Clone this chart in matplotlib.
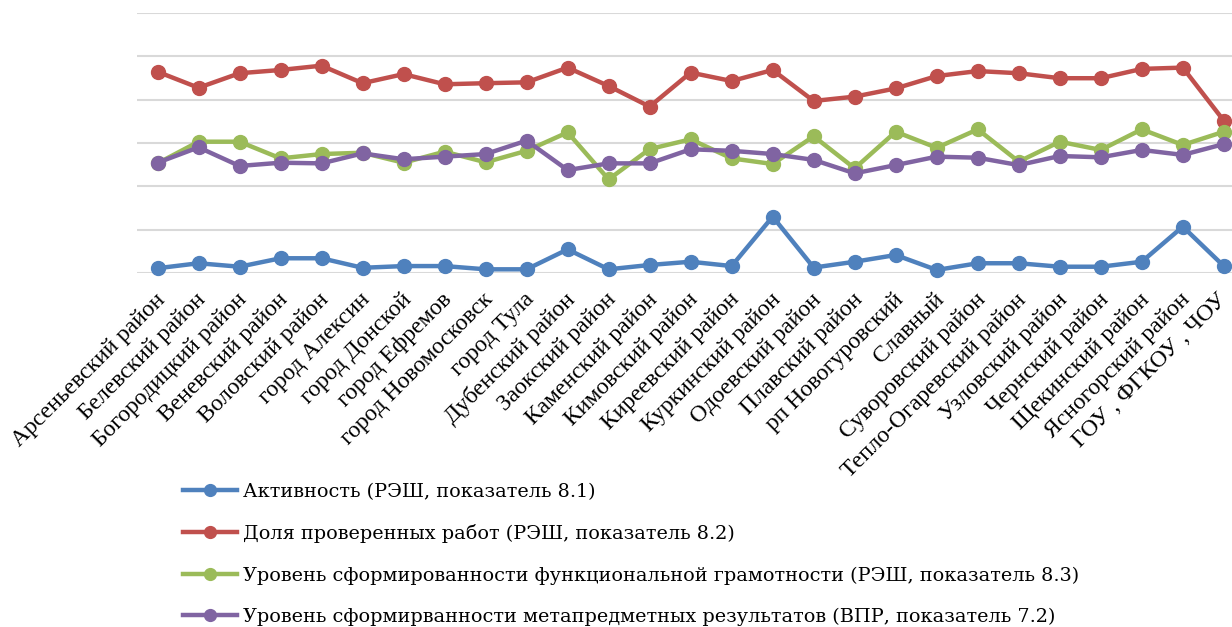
import matplotlib.pyplot as plt
from matplotlib.transforms import ScaledTranslation

# Районы (ось X)
raiony = ['Арсеньевский район', 'Белевский район', 'Богородицкий район', 'Веневский район',
          'Воловский район', 'город Алексин', 'город Донской', 'город Ефремов',
          'город Новомосковск', 'город Тула', 'Дубенский район', 'Заокский район',
          'Каменский район', 'Кимовский район', 'Киреевский район', 'Куркинский район',
          'Одоевский район', 'Плавский район', 'рп Новогуровский', 'Славный',
          'Суворовский район', 'Тепло-Огаревский район', 'Узловский район', 'Чернский район',
          'Щекинский район', 'Ясногорский район', 'ГОУ , ФГКОУ , ЧОУ']

# Значения серий (оценены по картинке)
aktivnost = [2.2, 4.5, 2.9, 6.8, 6.8, 2.4, 3.2, 3.2, 1.7, 1.7, 10.9, 1.7, 3.7, 5.2,
             3.2, 26.0, 2.5, 5.2, 8.3, 1.4, 4.5, 4.5, 2.9, 2.9, 5.2, 21.4, 3.2]
dolya = [92.9, 85.5, 92.2, 93.7, 95.7, 87.6, 91.8, 87.1, 87.6, 88.0, 94.8, 86.3, 76.8, 92.5,
         88.6, 93.7, 79.4, 81.4, 85.2, 90.9, 93.2, 92.2, 89.9, 89.9, 94.2, 94.8, 70.3]
funk_gram = [50.6, 60.6, 60.6, 52.9, 54.9, 55.5, 50.9, 56.0, 51.1, 56.4, 64.9, 43.2, 57.2, 61.7,
             52.9, 50.3, 63.1, 48.3, 65.2, 57.8, 66.3, 51.4, 60.6, 56.8, 66.3, 59.1, 65.2]
metapred = [50.9, 58.0, 49.4, 50.9, 50.6, 55.2, 52.5, 53.7, 54.9, 61.1, 47.5, 50.6, 50.6, 57.1,
            56.4, 54.9, 52.2, 46.0, 49.8, 53.7, 53.2, 49.8, 54.0, 53.4, 56.8, 54.5, 59.5]

nombres = ['Активность (РЭШ, показатель 8.1)',
           'Доля проверенных работ (РЭШ, показатель 8.2)',
           'Уровень сформированности функциональной грамотности (РЭШ, показатель 8.3)',
           'Уровень сформирванности метапредметных результатов (ВПР, показатель 7.2)']
colores = ['#4F81BD', '#C0504D', '#9BBB59', '#8064A2']

fig = plt.figure(figsize=(12.32, 6.27), dpi=100)
ax = fig.add_axes([137 / 1232, 1 - 273 / 627, 1 - 137 / 1232, (273 - 13) / 627])

x = list(range(len(raiony)))
lineas = []
for serie, nombre, color in zip([aktivnost, dolya, funk_gram, metapred], nombres, colores):
    l, = ax.plot(x, serie, color=color, linewidth=3.2, marker='o', markersize=10,
                 label=nombre, clip_on=False)
    lineas.append(l)

ax.set_ylim(0, 120)
ax.set_yticks(range(0, 121, 20))
ax.set_xlim(-0.5, 26.2)
ax.grid(axis='y', color='#D9D9D9', linewidth=1.5)
ax.set_axisbelow(True)
for s in ax.spines.values():
    s.set_visible(False)
ax.tick_params(axis='y', left=False, labelleft=False)
ax.tick_params(axis='x', length=0, pad=17)
ax.set_xticks(x)
ax.set_xticklabels(raiony, rotation=45, ha='right', va='center', rotation_mode='anchor',
                   fontsize=17, family='Liberation Serif')
# corro un poco las etiquetas hacia la derecha (la ultima no, para que no se corte)
desplazamiento = ScaledTranslation(0.045, 0, fig.dpi_scale_trans)
for etiqueta in ax.get_xticklabels()[:-1]:
    etiqueta.set_transform(etiqueta.get_transform() + desplazamiento)

fig.legend(handles=lineas, loc='upper left', bbox_to_anchor=(183 / 1232, 1 - 483 / 627),
           frameon=False, handlelength=2.8, handletextpad=0.3, labelspacing=1.2,
           borderpad=0, borderaxespad=0, markerscale=0.85,
           prop={'family': 'DejaVu Serif', 'size': 13.9})

plt.savefig('out.png', dpi=100)
plt.close()
